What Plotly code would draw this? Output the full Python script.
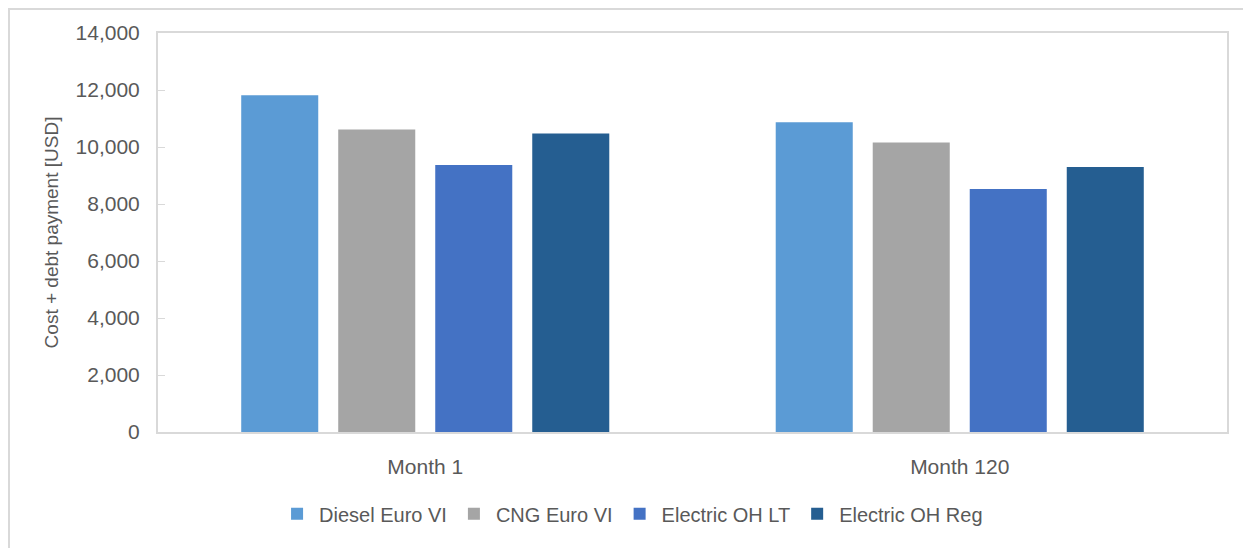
"""Grouped bar chart: monthly cost + debt payment by bus technology."""

import plotly.graph_objects as go

months = ["Month 1", "Month 120"]
diesel_euro_vi = [11820, 10870]
cng_euro_vi = [10610, 10160]
electric_oh_lt = [9370, 8530]
electric_oh_reg = [10470, 9300]

series = [
    ("Diesel Euro VI", diesel_euro_vi, "#5B9BD5"),
    ("CNG Euro VI", cng_euro_vi, "#A5A5A5"),
    ("Electric OH LT", electric_oh_lt, "#4472C4"),
    ("Electric OH Reg", electric_oh_reg, "#255E91"),
]

TEXT = "#595959"
LINE = "#D9D9D9"
FONT = "Liberation Sans"

# page body adds an 8px margin, so the figure is 1243x540 and the
# plot area lands on x 158..1227, y 33..432 of the page
W, H = 1243, 540
L, R, T, B = 150, 24, 25, 116
PW, PH = W - L - R, H - T - B

fig = go.Figure()
for name, values, color in series:
    fig.add_trace(
        go.Bar(
            name=name,
            x=months,
            y=values,
            marker={"color": color, "line": {"width": 0}},
        )
    )

fig.update_layout(
    width=W,
    height=H,
    margin={"l": L, "r": R, "t": T, "b": B},
    paper_bgcolor="white",
    plot_bgcolor="white",
    font={"family": FONT, "color": TEXT, "size": 19},
    barmode="group",
    bargap=0.274,
    bargroupgap=0.206,
    showlegend=True,
    legend={
        "orientation": "h",
        "x": 0.443,
        "xanchor": "center",
        "y": -0.205,
        "yanchor": "middle",
        "font": {"size": 20, "color": TEXT},
        "itemwidth": 34,
    },
    xaxis={
        "showline": True,
        "linecolor": LINE,
        "linewidth": 2,
        "mirror": True,
        "ticks": "",
        "tickfont": {"size": 21, "color": TEXT},
        "ticklabelstandoff": 15,
    },
    yaxis={
        "range": [0, 14000],
        "dtick": 2000,
        "tickformat": ",d",
        "showgrid": False,
        "zeroline": False,
        "showline": True,
        "linecolor": LINE,
        "linewidth": 2,
        "mirror": True,
        "ticks": "inside",
        "ticklen": 7,
        "tickcolor": LINE,
        "tickfont": {"size": 21, "color": TEXT},
        "ticklabelstandoff": 12,
        "title": {
            "text": "Cost + debt payment [USD]",
            "font": {"size": 19, "color": TEXT},
            "standoff": 12,
        },
    },
)

# outer chart frame (only its top and left edges fall inside the page)
fig.add_shape(
    type="rect",
    xref="paper",
    yref="paper",
    x0=(1 - L) / PW,
    x1=(W + 20 - L) / PW,
    y0=(T + PH - (H + 20)) / PH,
    y1=(T + PH - 1) / PH,
    line={"color": LINE, "width": 2},
    layer="below",
)

fig.write_html("out.html")
